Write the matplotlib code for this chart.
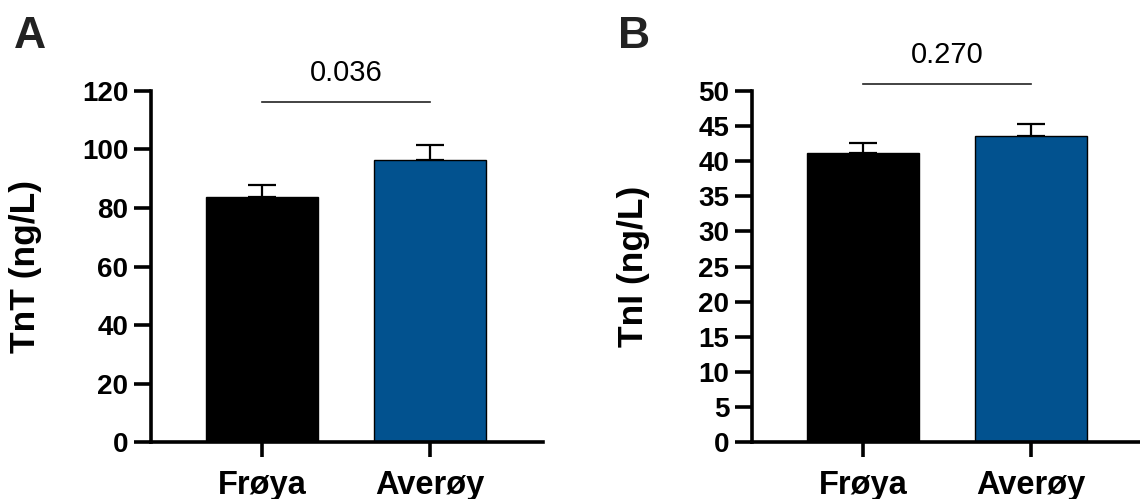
import numpy as np
import matplotlib.pyplot as plt

plt.rcParams['font.family'] = ['Liberation Sans', 'DejaVu Sans']

groups = ['Frøya', 'Averøy']
colors = ['#000000', '#02528f']

# panel A: TnT
tnt_mean = [83.8, 96.3]
tnt_err = [4.0, 5.2]
tnt_p = '0.036'
tnt_line_y = 116

# panel B: TnI
tni_mean = [41.2, 43.55]
tni_err = [1.4, 1.7]
tni_p = '0.270'
tni_line_y = 50.95

fig = plt.figure(figsize=(11.4, 4.99), dpi=100)
axA = fig.add_axes([0.1322, 0.1136, 0.3441, 0.7046])
axB = fig.add_axes([0.6594, 0.1136, 0.3441, 0.7046])


def draw_panel(ax, means, errs, ylim, ticks, ylabel, pval, line_y):
    x = np.arange(len(groups))
    ax.bar(x, means, width=0.667, color=colors, edgecolor='black', linewidth=1.0, zorder=2)
    ax.errorbar(x, means, yerr=[np.zeros(len(errs)), errs], fmt='none', ecolor='black',
                elinewidth=1.6, capsize=9.8, capthick=1.6, zorder=1)
    ax.set_xlim(-0.663, 1.673)
    ax.set_ylim(*ylim)
    ax.set_yticks(ticks)
    ax.set_xticks(x)
    ax.set_xticklabels(groups, fontsize=23.5, fontweight='bold')
    for lab in ax.get_yticklabels():
        lab.set_fontsize(20)
        lab.set_fontweight('bold')
    ax.spines['top'].set_visible(False)
    ax.spines['right'].set_visible(False)
    ax.spines['left'].set_linewidth(2.6)
    ax.spines['bottom'].set_linewidth(2.6)
    ax.tick_params(axis='y', length=12, width=2.6, pad=4)
    ax.tick_params(axis='x', length=11, width=2.6, pad=9)
    ax.set_ylabel(ylabel, fontsize=25.5, fontweight='bold')
    # significance bar
    ax.plot(x, [line_y, line_y], color='#222222', linewidth=1.2, clip_on=False)
    ax.annotate(pval, xy=(x.mean(), line_y), xytext=(0, 21), textcoords='offset points',
                ha='center', va='center', fontsize=21, annotation_clip=False)


draw_panel(axA, tnt_mean, tnt_err, (0, 120), np.arange(0, 121, 20), 'TnT (ng/L)', tnt_p, tnt_line_y)
draw_panel(axB, tni_mean, tni_err, (0, 50), np.arange(0, 51, 5), 'TnI (ng/L)', tni_p, tni_line_y)

ymid = 0.1136 + 0.7046 / 2
axA.yaxis.set_label_coords(42 / 1140, ymid, transform=fig.transFigure)
axB.yaxis.set_label_coords(650 / 1140, ymid, transform=fig.transFigure)

fig.text(14 / 1140, 1 - 48 / 499, 'A', fontsize=32, fontweight='bold', color='#222222',
         ha='left', va='baseline')
fig.text(618 / 1140, 1 - 48 / 499, 'B', fontsize=32, fontweight='bold', color='#222222',
         ha='left', va='baseline')

fig.savefig('out.png', dpi=100)
